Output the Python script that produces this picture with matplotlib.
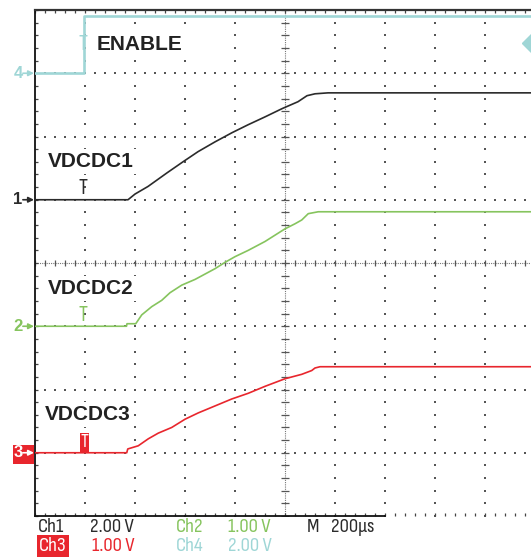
import numpy as np
import matplotlib
matplotlib.use("Agg")
import matplotlib.pyplot as plt
from matplotlib.patches import Rectangle
from matplotlib.ticker import MultipleLocator

# time in microseconds (trigger at 0), voltages in volts
t_ch1 = [-200, 174, 202, 254, 330, 394, 454, 522, 590, 654, 722, 790, 854, 890, 922, 974, 1800]
v_ch1 = [0, 0, 0.18, 0.42, 0.85, 1.20, 1.52, 1.83, 2.12, 2.37, 2.62, 2.88, 3.10, 3.29, 3.35, 3.38, 3.38]

t_ch2 = [-200, 168, 170, 205, 229, 269, 309, 342, 389, 442, 522, 562, 602, 655, 722, 802, 842, 869, 895, 935, 1800]
v_ch2 = [0, 0, 0.04, 0.04, 0.18, 0.31, 0.41, 0.53, 0.65, 0.74, 0.91, 1.01, 1.10, 1.20, 1.34, 1.54, 1.62, 1.68, 1.78, 1.81, 1.81]

t_ch3 = [-200, 169, 173, 215, 255, 295, 349, 402, 455, 522, 589, 655, 722, 802, 869, 909, 922, 942, 1800]
v_ch3 = [0, 0, 0.06, 0.11, 0.22, 0.31, 0.40, 0.53, 0.63, 0.74, 0.85, 0.94, 1.05, 1.17, 1.24, 1.30, 1.34, 1.36, 1.36]

t_ch4 = [-200, -4, -4, 1800]
v_ch4 = [0, 0, 1.81, 1.81]

channel_names = ["1", "2", "3", "4"]
volts_per_div = [2.0, 1.0, 1.0, 2.0]
ground_div = [5, 3, 1, 7]
trace_labels = ["VDCDC1", "VDCDC2", "VDCDC3", "ENABLE"]

BLACK = "#2b2b2b"
GREEN = "#86c45e"
RED = "#e8262d"
CYAN = "#9fd6d6"
colors = [BLACK, GREEN, RED, CYAN]

narrow = ["Sofia Sans Condensed", "Liberation Sans", "DejaVu Sans"]
sans = ["Liberation Sans", "DejaVu Sans"]

W, H = 531, 558
fig = plt.figure(figsize=(W / 100, H / 100), dpi=100)
ax = fig.add_axes([34.5 / W, 42 / H, 500 / W, 506 / H])
ax.set_xlim(-200, 1800)
ax.set_ylim(0, 8)

# scope graticule
for s in ["right", "bottom"]:
    ax.spines[s].set_visible(False)
ax.spines["left"].set_color("#111")
ax.spines["left"].set_linewidth(1.3)
ax.spines["top"].set_color("#333")
ax.spines["top"].set_linewidth(1.6)
ax.axhline(0, xmin=0, xmax=0.701, color="#111", lw=1.3, clip_on=False)
ax.xaxis.set_major_locator(MultipleLocator(200))
ax.xaxis.set_minor_locator(MultipleLocator(40))
ax.yaxis.set_major_locator(MultipleLocator(1))
ax.yaxis.set_minor_locator(MultipleLocator(0.2))
ax.tick_params(which="both", direction="in", length=2.5, width=0.9, color="#444",
               top=True, bottom=True, left=True, right=False,
               labelleft=False, labelbottom=False)

dot_x = np.arange(-200, 1801, 40)
dot_y = np.arange(0, 8.01, 0.2)
for gy in range(1, 8):
    if gy == 4:
        continue
    ax.scatter(dot_x, np.full_like(dot_x, gy, dtype=float), s=1.3, marker="s",
               color="#555", lw=0, zorder=1)
for gx in range(0, 1800, 200):
    if gx == 800:
        continue
    ax.scatter(np.full_like(dot_y, gx), dot_y, s=1.3, marker="s",
               color="#555", lw=0, zorder=1)
ax.axhline(4, color="#777", lw=0.8, ls=(0, (1, 1)), zorder=1)
ax.axvline(800, color="#777", lw=0.8, ls=(0, (1, 1)), zorder=1)
ax.plot(dot_x, np.full_like(dot_x, 4, dtype=float), ls="none", marker="|",
        ms=4, mew=0.9, color="#555", zorder=1)
ax.plot(np.full_like(dot_y, 800), dot_y, ls="none", marker="_",
        ms=6, mew=0.9, color="#555", zorder=1)

# traces
traces = [(t_ch1, v_ch1), (t_ch2, v_ch2), (t_ch3, v_ch3), (t_ch4, v_ch4)]
for i, (t, v) in enumerate(traces):
    y = ground_div[i] + np.array(v) / volts_per_div[i]
    ax.plot(t, y, color=colors[i], lw=1.9 if i == 3 else 1.2, zorder=3,
            solid_joinstyle="round")

# trigger position markers
for i in range(4):
    if i == 2:
        ax.text(0, ground_div[i] + 0.02, "T", color="white", fontsize=14,
                family=narrow, fontweight="bold", ha="center", va="bottom", zorder=4,
                bbox=dict(boxstyle="square,pad=0.05", fc=RED, ec="none"))
    else:
        base = ground_div[i] + (0.3 if i == 3 else 0.02)
        ax.text(-6, base, "T", color=colors[i], fontsize=16, family=narrow,
                ha="center", va="bottom", zorder=4)

# trigger level indicator
ax.plot([1785], [7.48], marker="D", ms=9, color=CYAN, clip_on=False, zorder=4)

# channel ground markers
ytr = ax.get_yaxis_transform()
ax.add_patch(Rectangle((-0.043, ground_div[2] - 0.18), 0.041, 0.30, transform=ytr,
                       fc=RED, ec="none", clip_on=False, zorder=2))
for i in range(4):
    c = "white" if i == 2 else colors[i]
    ax.annotate("", xy=(-0.001, ground_div[i]), xycoords=ytr,
                xytext=(-8, 0), textcoords="offset points",
                arrowprops=dict(arrowstyle="-|>", color=c, lw=1.2, shrinkA=0,
                                shrinkB=0, mutation_scale=8))
    ax.annotate(channel_names[i], xy=(0, ground_div[i]), xycoords=ytr,
                xytext=(-8.5, 0), textcoords="offset points", color=c,
                fontsize=12, fontweight="bold", family=sans, ha="right", va="center")

# trace labels
label_pos = [(-146, 5.60), (-146, 3.60), (-158, 1.60), (50, 7.45)]
for (lx, ly), txt in zip(label_pos, trace_labels):
    ax.text(lx, ly, txt, fontsize=15, fontweight="bold", family=sans, color="#222",
            ha="left", va="center", zorder=5,
            bbox=dict(boxstyle="square,pad=0.15", fc="white", ec="none"))

# readout strip
row1 = [("Ch1", 38, BLACK), ("2.00 V", 90, BLACK), ("Ch2", 176, GREEN),
        ("1.00 V", 228, GREEN), ("M", 307, BLACK), ("200\u00b5s", 331, BLACK)]
row2 = [("1.00 V", 92, RED), ("Ch4", 176, CYAN), ("2.00 V", 228, CYAN)]
for txt, px, c in row1:
    fig.text(px / W, 1 - 527 / H, txt, color=c, fontsize=15, family=narrow,
             ha="left", va="center")
for txt, px, c in row2:
    fig.text(px / W, 1 - 546 / H, txt, color=c, fontsize=15, family=narrow,
             ha="left", va="center")
fig.text(39 / W, 1 - 546 / H, "Ch3", color="white", fontsize=15, family=narrow,
         ha="left", va="center",
         bbox=dict(boxstyle="square,pad=0.1", fc=RED, ec="none"))

fig.savefig("out.png", dpi=100, facecolor="white")
